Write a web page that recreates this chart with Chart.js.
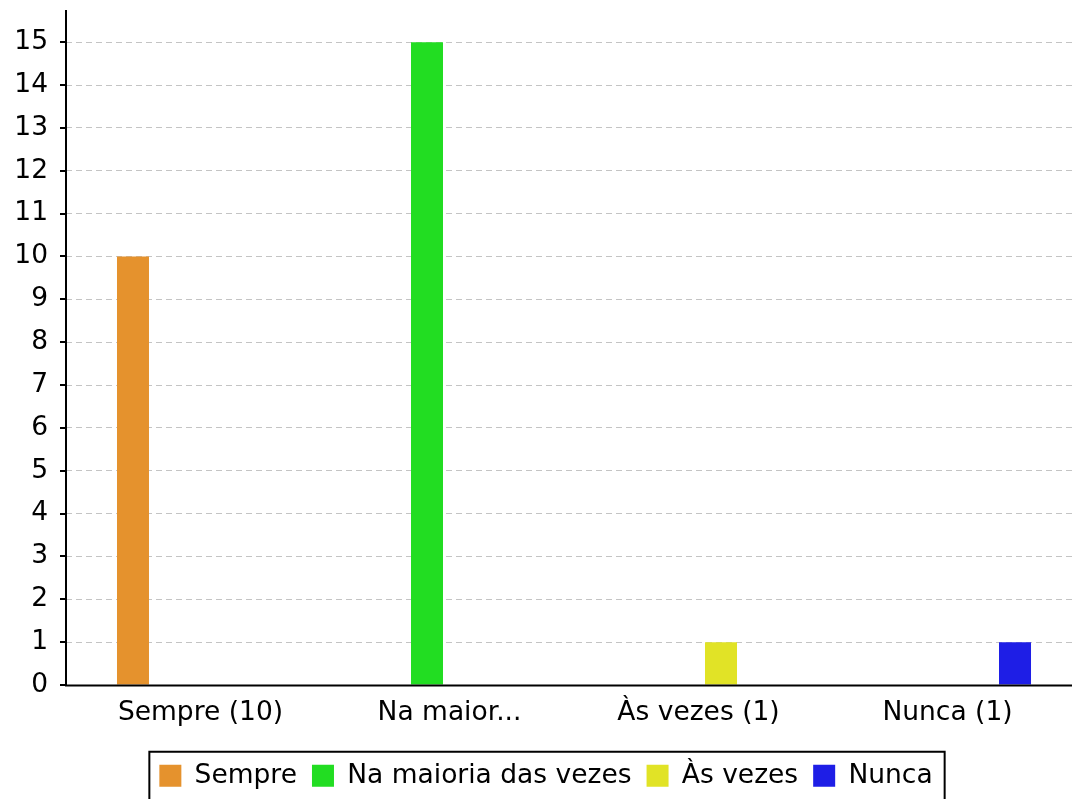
<!DOCTYPE html>
<html>
<head>
<meta charset="utf-8">
<script src="https://cdn.jsdelivr.net/npm/chart.js@4/dist/chart.umd.min.js"></script>
<style>
html, body { margin: 0; padding: 0; background: #fff; }
canvas { display: block; }
</style>
</head>
<body>
<canvas id="chart" width="1073" height="799"></canvas>
<script>
// data
const categories = ['Sempre (10)', 'Na maior...', 'Às vezes (1)', 'Nunca (1)'];
const seriesNames = ['Sempre', 'Na maioria das vezes', 'Às vezes', 'Nunca'];
const sempre = [10, 0, 0, 0];
const naMaioria = [0, 15, 0, 0];
const asVezes = [0, 0, 1, 0];
const nunca = [0, 0, 0, 1];
const yMax = 15.75;
const yStep = 1;

const colors = ['#e5922d', '#22dd22', '#e1e326', '#1e1ee6'];
const font = { family: '"DejaVu Sans", sans-serif', size: 26.5 };
const gridGray = '#c4c4c4';

// axis lines, black tick marks and the box round the legend
const axisLines = {
    id: 'axisLines',
    afterLayout(chart) {
        chart.legend.left += 10;
        chart.legend.right += 10;
    },
    afterDraw(chart) {
        const ctx = chart.ctx, a = chart.chartArea, y = chart.scales.y;
        const ax = a.left - 10;
        ctx.save();
        ctx.strokeStyle = '#000';
        ctx.lineWidth = 2;
        ctx.beginPath();
        ctx.moveTo(ax, a.top);
        ctx.lineTo(ax, a.bottom + 1.5);
        ctx.moveTo(ax - 1, a.bottom + 0.5);
        ctx.lineTo(a.right, a.bottom + 0.5);
        y.ticks.forEach(t => {
            const py = Math.round(y.getPixelForValue(t.value));
            ctx.moveTo(ax - 6, py);
            ctx.lineTo(ax, py);
        });
        ctx.stroke();

        const hb = chart.legend.legendHitBoxes;
        if (hb && hb.length) {
            const last = hb[hb.length - 1];
            const cy = hb[0].top + hb[0].height / 2;
            const left = hb[0].left - 10;
            const right = last.left + last.width + 12;
            ctx.strokeRect(left, cy - 24, right - left, 800 - (cy - 24));
        }
        ctx.restore();
    }
};

new Chart(document.getElementById('chart'), {
    type: 'bar',
    data: {
        labels: categories,
        datasets: [
            { label: seriesNames[0], data: sempre, backgroundColor: colors[0] },
            { label: seriesNames[1], data: naMaioria, backgroundColor: colors[1] },
            { label: seriesNames[2], data: asVezes, backgroundColor: colors[2] },
            { label: seriesNames[3], data: nunca, backgroundColor: colors[3] }
        ]
    },
    options: {
        responsive: false,
        animation: false,
        layout: { padding: { top: 10, right: 1, left: 0, bottom: 0 } },
        datasets: { bar: { barPercentage: 0.711, categoryPercentage: 0.723, borderWidth: 0 } },
        plugins: {
            tooltip: { enabled: false },
            legend: {
                position: 'bottom',
                labels: { font: font, color: '#000', boxWidth: 22, boxHeight: 22, padding: 15 }
            }
        },
        scales: {
            x: {
                grid: { display: false, drawTicks: false },
                border: { display: false },
                ticks: { font: font, color: '#000', padding: 12, maxRotation: 0, autoSkip: false },
                afterFit: s => {
                    s.height = 799 - 685 - s.chart.legend.height;
                    s.paddingLeft = 0;
                    s.paddingRight = 0;
                }
            },
            y: {
                min: 0,
                max: yMax,
                border: { display: false, dash: [6, 4] },
                grid: {
                    color: gridGray,
                    lineWidth: 1,
                    drawTicks: true,
                    tickLength: 10,
                    tickColor: gridGray,
                    tickBorderDash: [6, 4]
                },
                ticks: { stepSize: yStep, font: font, color: '#000', padding: 18 },
                afterBuildTicks: s => {
                    s.ticks = s.ticks.filter(t => Number.isInteger(t.value));
                },
                afterFit: s => {
                    s.width = 76;
                    s.paddingTop = 0;
                    s.paddingBottom = 0;
                }
            }
        }
    },
    plugins: [axisLines]
});
</script>
</body>
</html>
